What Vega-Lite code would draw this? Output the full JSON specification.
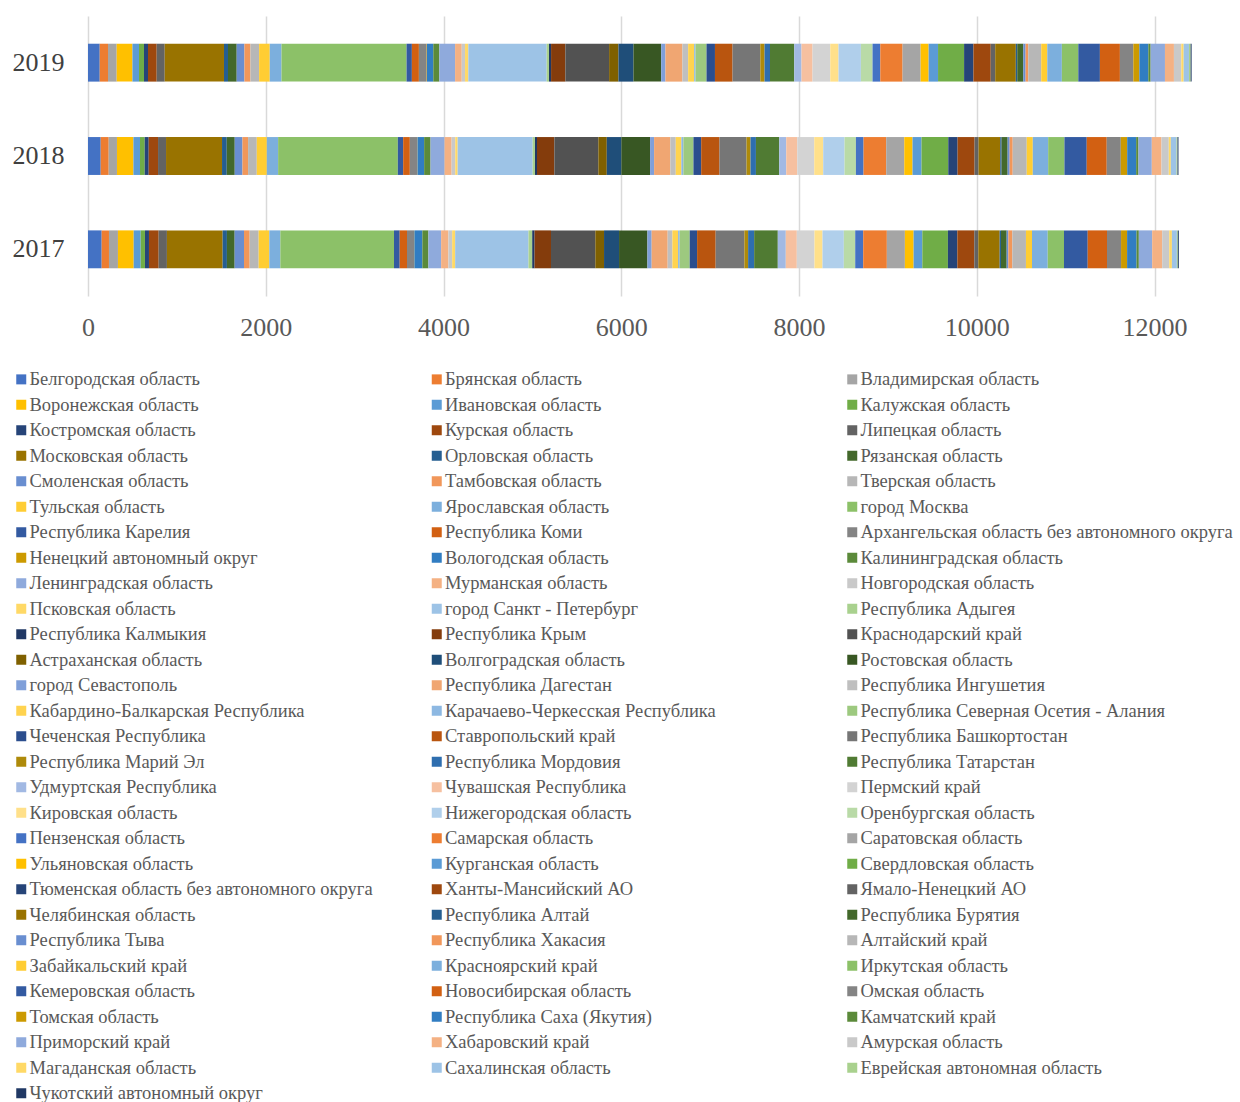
{
"$schema": "https://vega.github.io/schema/vega-lite/v6.json",
"width": 1111, "height": 280,
"autosize": {"type": "none"},
"padding": {"left": 88, "top": 16, "right": 41, "bottom": 806},
"background": "white",
"datasets": {"reg": [
{"i":1,"r":"Белгородская область","a":154,"b":143,"c":132},
{"i":2,"r":"Брянская область","a":82,"b":90,"c":93},
{"i":3,"r":"Владимирская область","a":101,"b":93,"c":98},
{"i":4,"r":"Воронежская область","a":177,"b":185,"c":177},
{"i":5,"r":"Ивановская область","a":79,"b":74,"c":74},
{"i":6,"r":"Калужская область","a":48,"b":53,"c":56},
{"i":7,"r":"Костромская область","a":45,"b":45,"c":45},
{"i":8,"r":"Курская область","a":109,"b":105,"c":98},
{"i":9,"r":"Липецкая область","a":93,"b":90,"c":90},
{"i":10,"r":"Московская область","a":627,"b":630,"c":667},
{"i":11,"r":"Орловская область","a":48,"b":53,"c":45},
{"i":12,"r":"Рязанская область","a":87,"b":90,"c":98},
{"i":13,"r":"Смоленская область","a":105,"b":87,"c":87},
{"i":14,"r":"Тамбовская область","a":64,"b":63,"c":68},
{"i":15,"r":"Тверская область","a":101,"b":98,"c":97},
{"i":16,"r":"Тульская область","a":120,"b":113,"c":120},
{"i":17,"r":"Ярославская область","a":124,"b":127,"c":132},
{"i":18,"r":"город Москва","a":1279,"b":1347,"c":1407},
{"i":19,"r":"Республика Карелия","a":64,"b":60,"c":60},
{"i":20,"r":"Республика Коми","a":82,"b":75,"c":79},
{"i":21,"r":"Архангельская область без автономного округа","a":79,"b":82,"c":87},
{"i":22,"r":"Ненецкий автономный округ","a":4,"b":4,"c":4},
{"i":23,"r":"Вологодская область","a":90,"b":75,"c":71},
{"i":24,"r":"Калининградская область","a":68,"b":72,"c":68},
{"i":25,"r":"Ленинградская область","a":143,"b":158,"c":177},
{"i":26,"r":"Мурманская область","a":82,"b":79,"c":75},
{"i":27,"r":"Новгородская область","a":42,"b":41,"c":37},
{"i":28,"r":"Псковская область","a":34,"b":27,"c":37},
{"i":29,"r":"город Санкт - Петербург","a":825,"b":844,"c":882},
{"i":30,"r":"Республика Адыгея","a":42,"b":26,"c":26},
{"i":31,"r":"Республика Калмыкия","a":26,"b":23,"c":23},
{"i":32,"r":"Республика Крым","a":185,"b":195,"c":161},
{"i":33,"r":"Краснодарский край","a":499,"b":495,"c":492},
{"i":34,"r":"Астраханская область","a":98,"b":95,"c":105},
{"i":35,"r":"Волгоградская область","a":169,"b":164,"c":169},
{"i":36,"r":"Ростовская область","a":319,"b":323,"c":312},
{"i":37,"r":"город Севастополь","a":48,"b":45,"c":48},
{"i":38,"r":"Республика Дагестан","a":180,"b":183,"c":191},
{"i":39,"r":"Республика Ингушетия","a":53,"b":61,"c":64},
{"i":40,"r":"Кабардино-Балкарская Республика","a":64,"b":63,"c":68},
{"i":41,"r":"Карачаево-Черкесская Республика","a":18,"b":23,"c":15},
{"i":42,"r":"Республика Северная Осетия - Алания","a":113,"b":113,"c":124},
{"i":43,"r":"Чеченская Республика","a":83,"b":87,"c":95},
{"i":44,"r":"Ставропольский край","a":209,"b":206,"c":198},
{"i":45,"r":"Республика Башкортостан","a":323,"b":304,"c":312},
{"i":46,"r":"Республика Марий Эл","a":42,"b":45,"c":48},
{"i":47,"r":"Республика Мордовия","a":68,"b":61,"c":61},
{"i":48,"r":"Республика Татарстан","a":266,"b":262,"c":273},
{"i":49,"r":"Удмуртская Республика","a":90,"b":79,"c":82},
{"i":50,"r":"Чувашская Республика","a":124,"b":124,"c":124},
{"i":51,"r":"Пермский край","a":199,"b":191,"c":199},
{"i":52,"r":"Кировская область","a":90,"b":101,"c":93},
{"i":53,"r":"Нижегородская область","a":240,"b":240,"c":252},
{"i":54,"r":"Оренбургская область","a":128,"b":128,"c":131},
{"i":55,"r":"Пензенская область","a":90,"b":86,"c":87},
{"i":56,"r":"Самарская область","a":266,"b":255,"c":251},
{"i":57,"r":"Саратовская область","a":203,"b":203,"c":203},
{"i":58,"r":"Ульяновская область","a":98,"b":93,"c":90},
{"i":59,"r":"Курганская область","a":98,"b":101,"c":106},
{"i":60,"r":"Свердловская область","a":288,"b":301,"c":293},
{"i":61,"r":"Тюменская область без автономного округа","a":106,"b":105,"c":105},
{"i":62,"r":" Ханты-Мансийский АО","a":191,"b":191,"c":195},
{"i":63,"r":" Ямало-Ненецкий АО","a":45,"b":45,"c":50},
{"i":64,"r":"Челябинская область","a":240,"b":244,"c":232},
{"i":65,"r":"Республика Алтай","a":15,"b":15,"c":16},
{"i":66,"r":"Республика Бурятия","a":64,"b":68,"c":68},
{"i":67,"r":"Республика Тыва","a":19,"b":23,"c":26},
{"i":68,"r":"Республика Хакасия","a":45,"b":34,"c":30},
{"i":69,"r":"Алтайский край","a":153,"b":158,"c":146},
{"i":70,"r":"Забайкальский край","a":68,"b":68,"c":68},
{"i":71,"r":"Красноярский край","a":177,"b":173,"c":164},
{"i":72,"r":"Иркутская область","a":183,"b":183,"c":185},
{"i":73,"r":"Кемеровская область","a":267,"b":251,"c":243},
{"i":74,"r":"Новосибирская область","a":217,"b":225,"c":225},
{"i":75,"r":"Омская область","a":158,"b":158,"c":151},
{"i":76,"r":"Томская область","a":68,"b":72,"c":68},
{"i":77,"r":"Республика Саха (Якутия)","a":106,"b":101,"c":101},
{"i":78,"r":"Камчатский край","a":26,"b":26,"c":26},
{"i":79,"r":"Приморский край","a":150,"b":150,"c":161},
{"i":80,"r":"Хабаровский край","a":113,"b":109,"c":101},
{"i":81,"r":"Амурская область","a":79,"b":82,"c":83},
{"i":82,"r":"Магаданская область","a":30,"b":23,"c":26},
{"i":83,"r":"Сахалинская область","a":56,"b":64,"c":60},
{"i":84,"r":"Еврейская автономная область","a":11,"b":11,"c":19},
{"i":85,"r":"Чукотский автономный округ","a":11,"b":11,"c":11}
]},
"data": {"name": "reg"},
"transform": [
  {"fold": ["a", "b", "c"], "as": ["k", "v"]},
  {"lookup": "k", "from": {"data": {"values": [{"k":"a","y":"2017"},{"k":"b","y":"2018"},{"k":"c","y":"2019"}]}, "key": "k", "fields": ["y"]}}
],
"mark": {"type": "bar"},
"encoding": {
  "y": {"field": "y", "type": "nominal", "sort": "descending",
        "scale": {"paddingInner": 0.594, "paddingOuter": 0.297},
        "axis": {"title": null, "domain": false, "ticks": false, "labelFont": "Liberation Serif", "labelFontSize": 26, "labelColor": "#404040", "labelPadding": 24}},
  "x": {"field": "v", "type": "quantitative", "stack": "zero",
        "scale": {"domain": [0, 12500], "nice": false},
        "axis": {"title": null, "values": [0,2000,4000,6000,8000,10000,12000], "format": "d", "domain": false, "ticks": false, "grid": true, "gridColor": "#D9D9D9", "gridWidth": 1.5, "labelFlush": false, "labelFont": "Liberation Serif", "labelFontSize": 26, "labelColor": "#595959", "labelPadding": 18}},
  "color": {"field": "r", "type": "nominal",
    "scale": {
      "domain": ["Белгородская область","Брянская область","Владимирская область","Воронежская область","Ивановская область","Калужская область","Костромская область","Курская область","Липецкая область","Московская область","Орловская область","Рязанская область","Смоленская область","Тамбовская область","Тверская область","Тульская область","Ярославская область","город Москва","Республика Карелия","Республика Коми","Архангельская область без автономного округа","Ненецкий автономный округ","Вологодская область","Калининградская область","Ленинградская область","Мурманская область","Новгородская область","Псковская область","город Санкт - Петербург","Республика Адыгея","Республика Калмыкия","Республика Крым","Краснодарский край","Астраханская область","Волгоградская область","Ростовская область","город Севастополь","Республика Дагестан","Республика Ингушетия","Кабардино-Балкарская Республика","Карачаево-Черкесская Республика","Республика Северная Осетия - Алания","Чеченская Республика","Ставропольский край","Республика Башкортостан","Республика Марий Эл","Республика Мордовия","Республика Татарстан","Удмуртская Республика","Чувашская Республика","Пермский край","Кировская область","Нижегородская область","Оренбургская область","Пензенская область","Самарская область","Саратовская область","Ульяновская область","Курганская область","Свердловская область","Тюменская область без автономного округа"," Ханты-Мансийский АО"," Ямало-Ненецкий АО","Челябинская область","Республика Алтай","Республика Бурятия","Республика Тыва","Республика Хакасия","Алтайский край","Забайкальский край","Красноярский край","Иркутская область","Кемеровская область","Новосибирская область","Омская область","Томская область","Республика Саха (Якутия)","Камчатский край","Приморский край","Хабаровский край","Амурская область","Магаданская область","Сахалинская область","Еврейская автономная область","Чукотский автономный округ"],
      "range": ["#4472C4","#ED7D31","#A5A5A5","#FFC000","#5B9BD5","#70AD47","#264478","#9E480E","#636363","#997300","#255E91","#43682B","#698ED0","#F1975A","#B7B7B7","#FFCD33","#7CAFDD","#8CC168","#335AA1","#D26012","#848484","#CC9A00","#317DC2","#5B8A3A","#8FAADC","#F4B183","#C9C9C9","#FFD966","#9DC3E6","#A9D18E","#203864","#843C0C","#525252","#7F6000","#1F4E79","#385723","#7F9FD9","#F0A672","#BFBFBF","#FFD34F","#8DB8E2","#9DC97F","#2B4E8E","#B9550F","#767676","#AE8A0A","#2E6EAF","#507B33","#A2B9E3","#F6C0A0","#D3D3D3","#FFE08A","#B0CFEB","#B9DAA7","#4472C4","#ED7D31","#A5A5A5","#FFC000","#5B9BD5","#70AD47","#264478","#9E480E","#636363","#997300","#255E91","#43682B","#698ED0","#F1975A","#B7B7B7","#FFCD33","#7CAFDD","#8CC168","#335AA1","#D26012","#848484","#CC9A00","#317DC2","#5B8A3A","#8FAADC","#F4B183","#C9C9C9","#FFD966","#9DC3E6","#A9D18E","#203864"]
    },
    "legend": {"orient": "none", "direction": "horizontal", "legendX": -76, "legendY": 354, "columns": 3, "title": null, "symbolType": "square", "symbolSize": 100, "symbolStrokeWidth": 0, "symbolOpacity": 1, "labelFont": "Liberation Serif", "labelFontSize": 18.5, "labelColor": "#595959", "labelOffset": -1, "rowPadding": 6.5, "columnPadding": 25.5, "gridAlign": "all", "symbolLimit": 100, "labelLimit": 500, "padding": 0}
  },
  "order": {"field": "i", "type": "quantitative"}
},
"config": {"view": {"stroke": null}}
}
